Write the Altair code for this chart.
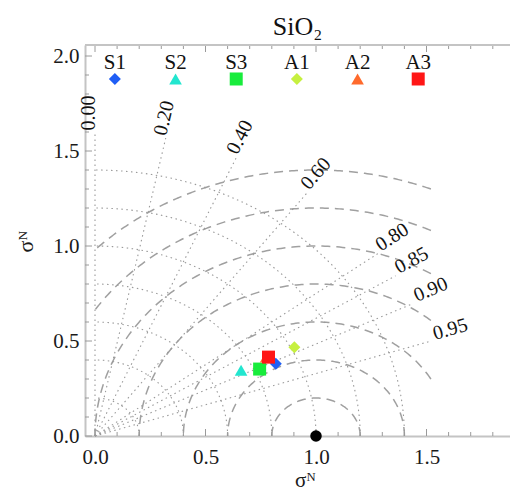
import numpy as np
import pandas as pd
import altair as alt

# ---------------- data ----------------
names = ["S1", "S2", "S3", "A1", "A2", "A3"]
std_norm = [0.902, 0.746, 0.824, 1.016, 0.879, 0.888]     # normalised std dev
corr = [0.907, 0.886, 0.904, 0.888, 0.881, 0.884]         # correlation
colors = ["#1f5ef5", "#22e6cf", "#18ec3c", "#c6f040", "#ff6a2c", "#ff1616"]
shapes = ["diamond", "triangle-up", "square", "diamond", "triangle-up", "square"]
sizes = [144, 160, 169, 144, 160, 169]

ref_std = [1.0]
ref_corr = [1.0]

corr_lines = [0.0, 0.2, 0.4, 0.6, 0.8, 0.85, 0.9, 0.95]
corr_labels = ["0.00", "0.20", "0.40", "0.60", "0.80", "0.85", "0.90", "0.95"]
std_arcs = [0.2, 0.4, 0.6, 0.8, 1.0, 1.2, 1.4]
rms_arcs = [0.2, 0.4, 0.6, 0.8, 1.0, 1.2, 1.4]
x_label_vals = [0.0, 0.5, 1.0, 1.5]
y_label_vals = [0.0, 0.5, 1.0, 1.5, 2.0]
title_text = "SiO\u2082"
axis_title = "\u03c3\u1d3a"

# ---------------- geometry / layout ----------------
W, H = 425, 391
SX, SY = 221.0, 190.0          # pixels per unit
X0 = -10 / SX
X1 = X0 + W / SX
Y0 = 0.0
Y1 = H / SY
R_LINE = 1.6
R_LABEL = 1.70
X_CLIP = 1.52
FONT = "Liberation Serif"

xs = alt.Scale(domain=[X0, X1], nice=False, zero=False)
ys = alt.Scale(domain=[Y0, Y1], nice=False, zero=False)

# dotted: std-dev arcs and correlation rays
rows = []
for r in std_arcs:
    t = np.linspace(0, np.pi / 2, 120)
    for i, tt in enumerate(t):
        rows.append(dict(g=f"s{r}", i=i, x=r * np.cos(tt), y=r * np.sin(tt)))
for c in corr_lines:
    th = np.arccos(c)
    rows.append(dict(g=f"c{c}", i=0, x=0.0, y=0.0))
    rows.append(dict(g=f"c{c}", i=1, x=R_LINE * np.cos(th), y=R_LINE * np.sin(th)))
dotted = pd.DataFrame(rows)

# dashed: centred-RMS arcs around the reference point
rows = []
for r in rms_arcs:
    t0 = np.arccos(min(1.0, (X_CLIP - 1.0) / r))
    t1 = np.arccos(max(-1.0, -1.0 / r))
    t = np.linspace(t0, t1, 160)
    for i, tt in enumerate(t):
        rows.append(dict(g=f"r{r}", i=i, x=1.0 + r * np.cos(tt), y=r * np.sin(tt)))
dashed = pd.DataFrame(rows)

# correlation labels
lab = []
for c, s in zip(corr_lines, corr_labels):
    th = np.arccos(c)
    a = np.degrees(np.arctan2(SY * np.sin(th), SX * np.cos(th)))
    lab.append(dict(x=R_LABEL * np.cos(th), y=R_LABEL * np.sin(th), t=s, ang=(360 - a) % 360))
labels_df = pd.DataFrame(lab)

# model points
pts = pd.DataFrame({
    "name": names,
    "x": [s * c for s, c in zip(std_norm, corr)],
    "y": [s * np.sqrt(1 - c * c) for s, c in zip(std_norm, corr)],
    "color": colors, "shape": shapes, "size": sizes,
})
ref = pd.DataFrame({
    "x": [s * c for s, c in zip(ref_std, ref_corr)],
    "y": [s * np.sqrt(max(0.0, 1 - c * c)) for s, c in zip(ref_std, ref_corr)],
})

# in-plot legend
leg = pd.DataFrame({
    "name": names,
    "x": [0.09 + 0.2745 * i for i in range(len(names))],
    "ys": [1.879] * len(names),
    "yt": [1.963] * len(names),
    "color": colors, "shape": shapes, "size": sizes,
})

# inward ticks
tk = []
for v in np.round(np.arange(0, 1.85, 0.1), 2):
    L = 7 if abs(v * 2 - round(v * 2)) < 1e-6 else 4
    tk.append(dict(x=v, x2=v, y=Y0, y2=Y0 + L / SY))
    tk.append(dict(x=v, x2=v, y=Y1, y2=Y1 - L / SY))
for v in np.round(np.arange(0, 2.05, 0.1), 2):
    L = 7 if abs(v * 2 - round(v * 2)) < 1e-6 else 4
    tk.append(dict(x=X0, x2=X0 + L / SX, y=v, y2=v))
ticks = pd.DataFrame(tk)
frame = pd.DataFrame({"x": [X0], "x2": [X1], "y": [Y1]})

# ---------------- layers ----------------
x_axis = alt.Axis(values=x_label_vals, format=".1f", ticks=False, labelFont=FONT,
                  labelFontSize=21, labelColor="#1a1a1a", labelPadding=10,
                  domainColor="#c4c4c4", domainWidth=2, title=axis_title,
                  titleFont=FONT, titleFontSize=21, titleFontWeight="normal",
                  titleColor="#1a1a1a", titleX=220, titleY=54, titleBaseline="bottom")
y_axis = alt.Axis(values=y_label_vals, format=".1f", ticks=False, labelFont=FONT,
                  labelFontSize=21, labelColor="#1a1a1a", labelPadding=6,
                  domainColor="#c4c4c4", domainWidth=2, title=axis_title,
                  titleFont=FONT, titleFontSize=22, titleFontWeight="normal",
                  titleColor="#1a1a1a", titleAngle=270, titleX=-60, titleY=196,
                  titleBaseline="middle", titleAlign="center")


def X(field):
    return alt.X(field, scale=xs, axis=x_axis)


def Y(field):
    return alt.Y(field, scale=ys, axis=y_axis)


dash_layer = alt.Chart(dashed).mark_line(color="#a0a0a0", strokeWidth=1.5, strokeDash=[9, 6]).encode(
    x=X("x:Q"), y=Y("y:Q"), detail="g:N", order="i:Q")

dot_layer = alt.Chart(dotted).mark_line(color="#9a9a9a", strokeWidth=1.1, strokeDash=[1.5, 3.5]).encode(
    x=X("x:Q"), y=Y("y:Q"), detail="g:N", order="i:Q")

tick_layer = alt.Chart(ticks).mark_rule(color="#9a9a9a", strokeWidth=1).encode(
    x=X("x:Q"), x2="x2:Q", y=Y("y:Q"), y2="y2:Q")

frame_layer = alt.Chart(frame).mark_rule(color="#c4c4c4", strokeWidth=2).encode(
    x=X("x:Q"), x2="x2:Q", y=Y("y:Q"))

lab_layer = alt.Chart(labels_df).mark_text(font=FONT, fontSize=20, color="#111111",
                                           align="center", baseline="alphabetic").encode(
    x=X("x:Q"), y=Y("y:Q"), text="t:N", angle=alt.Angle("ang:Q", scale=None))

pt_layer = alt.Chart(pts).mark_point(filled=True, opacity=1, strokeWidth=0).encode(
    x=X("x:Q"), y=Y("y:Q"),
    color=alt.Color("color:N", scale=None),
    shape=alt.Shape("shape:N", scale=None),
    size=alt.Size("size:Q", scale=None))

ref_layer = alt.Chart(ref).mark_point(filled=True, opacity=1, shape="circle", size=133,
                                      color="black", strokeWidth=0).encode(
    x=X("x:Q"), y=Y("y:Q"))

leg_sym = alt.Chart(leg).mark_point(filled=True, opacity=1, strokeWidth=0).encode(
    x=X("x:Q"), y=Y("ys:Q"),
    color=alt.Color("color:N", scale=None),
    shape=alt.Shape("shape:N", scale=None),
    size=alt.Size("size:Q", scale=None))

leg_txt = alt.Chart(leg).mark_text(font=FONT, fontSize=21, color="#111111",
                                   align="center", baseline="middle").encode(
    x=X("x:Q"), y=Y("yt:Q"), text="name:N")

chart = alt.layer(
    dash_layer, dot_layer, tick_layer, frame_layer, lab_layer,
    pt_layer, ref_layer, leg_sym, leg_txt
).properties(
    width=W, height=H,
    title=alt.TitleParams(text=title_text, font=FONT, fontSize=26, fontWeight="normal",
                          color="#111111", anchor="middle", offset=4),
    autosize=alt.AutoSizeParams(type="none"),
    padding={"left": 85, "top": 45, "right": 0, "bottom": 55},
).configure_view(stroke=None).configure_axis(grid=False)

chart.save("out.html", embed_options={"renderer": "svg", "actions": False})
